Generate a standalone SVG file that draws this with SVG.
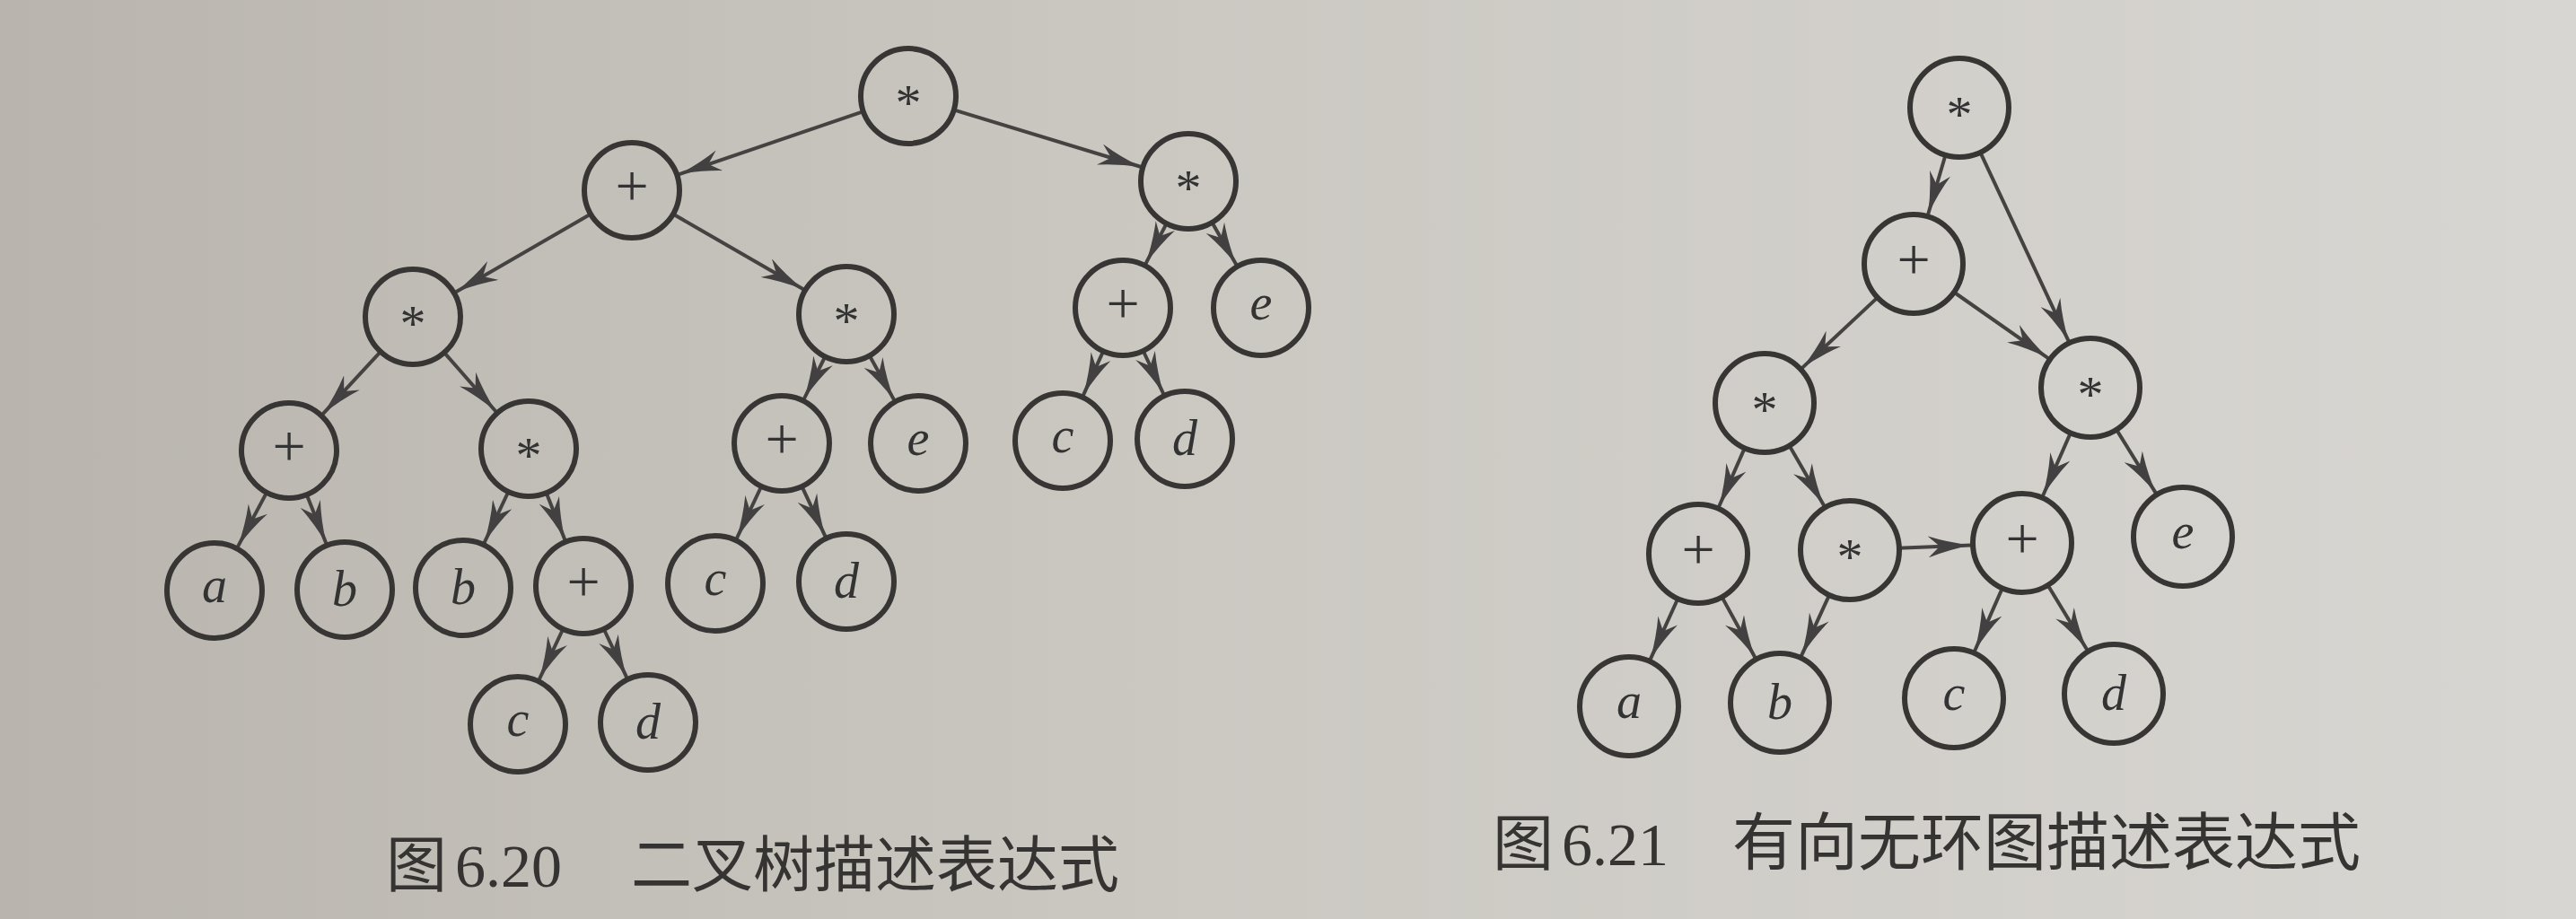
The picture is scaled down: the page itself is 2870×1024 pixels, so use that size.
<svg xmlns="http://www.w3.org/2000/svg" width="2870" height="1024" viewBox="0 0 2870 1024">
<defs>
<linearGradient id="bg" x1="0" y1="0" x2="1" y2="0">
<stop offset="0" stop-color="#b9b5ae"/>
<stop offset="0.45" stop-color="#cbc8c2"/>
<stop offset="1" stop-color="#d8d6d2"/>
</linearGradient>
<marker id="ah" viewBox="0 0 48 24" markerWidth="48" markerHeight="24" refX="48" refY="12" orient="auto" markerUnits="userSpaceOnUse">
<path d="M0,0 Q22,8 48,12 Q22,16 0,24 L13,12 Z" fill="#424040"/>
</marker>
</defs>
<style>
.n{fill:none;stroke:#383634;stroke-width:6}
.e{stroke:#454341;stroke-width:4;fill:none;marker-end:url(#ah)}
.op{font-family:"Liberation Serif",serif;font-size:58px;fill:#333;text-anchor:middle}
.pl{font-family:"Liberation Serif",serif;font-size:66px;fill:#333;text-anchor:middle}
.v{font-family:"Liberation Serif",serif;font-style:italic;font-size:56px;fill:#333;text-anchor:middle}
.cap{font-family:"Liberation Serif","Noto Sans CJK SC",serif;font-size:68px;fill:#363432}
</style>
<rect width="2870" height="1024" fill="url(#bg)"/>

<g id="connectors">
<line class="e" x1="962.8" y1="123.8" x2="756.1" y2="194.3"/>
<line class="e" x1="1061.7" y1="122.1" x2="1271.4" y2="186.0"/>
<line class="e" x1="659.0" y1="238.0" x2="507.6" y2="325.5"/>
<line class="e" x1="749.0" y1="238.0" x2="895.4" y2="322.5"/>
<line class="e" x1="424.7" y1="391.1" x2="359.4" y2="461.7"/>
<line class="e" x1="494.3" y1="392.1" x2="552.7" y2="458.7"/>
<line class="e" x1="297.6" y1="547.9" x2="264.8" y2="609.4"/>
<line class="e" x1="341.3" y1="550.3" x2="363.6" y2="605.9"/>
<line class="e" x1="566.8" y1="547.0" x2="539.4" y2="605.2"/>
<line class="e" x1="608.3" y1="548.3" x2="629.6" y2="601.9"/>
<line class="e" x1="627.7" y1="700.0" x2="600.6" y2="757.3"/>
<line class="e" x1="672.3" y1="700.0" x2="698.5" y2="755.3"/>
<line class="e" x1="919.7" y1="396.5" x2="895.6" y2="444.8"/>
<line class="e" x1="968.3" y1="395.5" x2="996.3" y2="445.9"/>
<line class="e" x1="848.7" y1="541.0" x2="820.6" y2="600.3"/>
<line class="e" x1="893.0" y1="541.1" x2="919.7" y2="598.2"/>
<line class="e" x1="1300.1" y1="248.2" x2="1276.3" y2="294.2"/>
<line class="e" x1="1349.9" y1="247.1" x2="1377.6" y2="295.3"/>
<line class="e" x1="1229.6" y1="390.4" x2="1206.7" y2="440.9"/>
<line class="e" x1="1273.2" y1="390.0" x2="1296.5" y2="439.3"/>

<line class="e" x1="2167.8" y1="171.8" x2="2148.0" y2="239.3"/>
<line class="e" x1="2205.9" y1="168.9" x2="2304.8" y2="380.4"/>
<line class="e" x1="2092.5" y1="330.9" x2="2007.7" y2="410.1"/>
<line class="e" x1="2176.2" y1="325.0" x2="2282.3" y2="399.3"/>
<line class="e" x1="1944.2" y1="498.4" x2="1915.0" y2="564.8"/>
<line class="e" x1="1993.1" y1="495.7" x2="2032.4" y2="563.7"/>
<line class="e" x1="1869.7" y1="666.2" x2="1838.5" y2="735.1"/>
<line class="e" x1="1918.0" y1="664.4" x2="1955.6" y2="733.0"/>
<line class="e" x1="2038.5" y1="662.1" x2="2006.8" y2="731.2"/>
<line class="e" x1="2114.9" y1="610.8" x2="2196.1" y2="607.4"/>
<line class="e" x1="2307.3" y1="481.4" x2="2275.9" y2="552.8"/>
<line class="e" x1="2357.5" y1="477.9" x2="2402.0" y2="549.6"/>
<line class="e" x1="2231.3" y1="654.4" x2="2199.9" y2="725.8"/>
<line class="e" x1="2281.0" y1="651.2" x2="2325.4" y2="724.3"/>
</g>

<!-- Figure 6.20 binary tree -->
<g id="t-root"><circle class="n" cx="1012" cy="107" r="53"/><text class="op" x="1012" y="134">*</text></g>
<g id="t-plus1"><circle class="n" cx="704" cy="212" r="53"/><text class="pl" x="704" y="229">+</text></g>
<g id="t-starR"><circle class="n" cx="1324" cy="202" r="53"/><text class="op" x="1324" y="229">*</text></g>
<g id="t-starLL"><circle class="n" cx="460" cy="353" r="53"/><text class="op" x="460" y="380">*</text></g>
<g id="t-starM"><circle class="n" cx="943" cy="350" r="53"/><text class="op" x="943" y="377">*</text></g>
<g id="t-plusR"><circle class="n" cx="1251" cy="343" r="53"/><text class="pl" x="1251" y="360">+</text></g>
<g id="t-eR"><circle class="n" cx="1405" cy="343" r="53"/><text class="v" x="1405" y="356">e</text></g>
<g id="t-plusL4"><circle class="n" cx="322" cy="502" r="53"/><text class="pl" x="322" y="519">+</text></g>
<g id="t-starL4"><circle class="n" cx="589" cy="500" r="53"/><text class="op" x="589" y="527">*</text></g>
<g id="t-plusM"><circle class="n" cx="871" cy="494" r="53"/><text class="pl" x="871" y="511">+</text></g>
<g id="t-eM"><circle class="n" cx="1023" cy="494" r="53"/><text class="v" x="1023" y="507">e</text></g>
<g id="t-cR"><circle class="n" cx="1184" cy="491" r="53"/><text class="v" x="1184" y="504">c</text></g>
<g id="t-dR"><circle class="n" cx="1320" cy="489" r="53"/><text class="v" x="1320" y="507">d</text></g>
<g id="t-a"><circle class="n" cx="239" cy="658" r="53"/><text class="v" x="239" y="671">a</text></g>
<g id="t-b1"><circle class="n" cx="384" cy="657" r="53"/><text class="v" x="384" y="675">b</text></g>
<g id="t-b2"><circle class="n" cx="516" cy="655" r="53"/><text class="v" x="516" y="673">b</text></g>
<g id="t-plusB"><circle class="n" cx="650" cy="653" r="53"/><text class="pl" x="650" y="670">+</text></g>
<g id="t-cM"><circle class="n" cx="797" cy="650" r="53"/><text class="v" x="797" y="663">c</text></g>
<g id="t-dM"><circle class="n" cx="943" cy="648" r="53"/><text class="v" x="943" y="666">d</text></g>
<g id="t-cB"><circle class="n" cx="577" cy="807" r="53"/><text class="v" x="577" y="820">c</text></g>
<g id="t-dB"><circle class="n" cx="722" cy="805" r="53"/><text class="v" x="722" y="823">d</text></g>

<!-- Figure 6.21 DAG -->
<g id="g-root"><circle class="n" cx="2183" cy="120" r="55"/><text class="op" x="2183" y="147">*</text></g>
<g id="g-plus1"><circle class="n" cx="2132" cy="294" r="55"/><text class="pl" x="2132" y="311">+</text></g>
<g id="g-starR"><circle class="n" cx="2329" cy="432" r="55"/><text class="op" x="2329" y="459">*</text></g>
<g id="g-starL"><circle class="n" cx="1966" cy="449" r="55"/><text class="op" x="1966" y="476">*</text></g>
<g id="g-plusBL"><circle class="n" cx="1892" cy="617" r="55"/><text class="pl" x="1892" y="634">+</text></g>
<g id="g-starB"><circle class="n" cx="2061" cy="613" r="55"/><text class="op" x="2061" y="640">*</text></g>
<g id="g-plusR"><circle class="n" cx="2253" cy="605" r="55"/><text class="pl" x="2253" y="622">+</text></g>
<g id="g-e"><circle class="n" cx="2432" cy="598" r="55"/><text class="v" x="2432" y="611">e</text></g>
<g id="g-a"><circle class="n" cx="1815" cy="787" r="55"/><text class="v" x="1815" y="800">a</text></g>
<g id="g-b"><circle class="n" cx="1983" cy="783" r="55"/><text class="v" x="1983" y="801">b</text></g>
<g id="g-c"><circle class="n" cx="2177" cy="778" r="55"/><text class="v" x="2177" y="791">c</text></g>
<g id="g-d"><circle class="n" cx="2355" cy="773" r="55"/><text class="v" x="2355" y="791">d</text></g>

<g id="captions">
<text class="cap" y="988"><tspan x="430">图</tspan><tspan x="507">6.20</tspan><tspan x="703">二叉树描述表达式</tspan></text>
<text class="cap" y="964"><tspan x="1663">图</tspan><tspan x="1740">6.21</tspan><tspan x="1930" font-size="70">有向无环图描述表达式</tspan></text>
</g>
</svg>
